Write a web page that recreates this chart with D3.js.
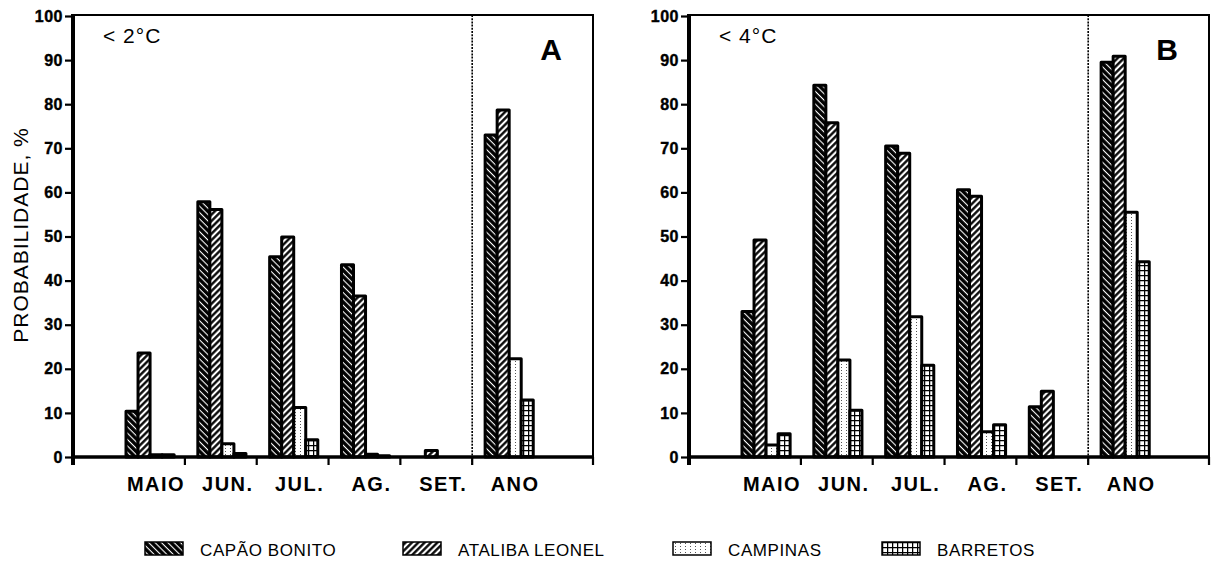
<!DOCTYPE html>
<html>
<head>
<meta charset="utf-8">
<script src="https://cdn.jsdelivr.net/npm/d3@7"></script>
<style>
body { margin: 0; background: #fff; }
svg { display: block; font-family: "Liberation Sans", Arial, sans-serif; }
</style>
</head>
<body>
<script>
var months = ["MAIO", "JUN.", "JUL.", "AG.", "SET.", "ANO"];
var series = ["CAPÃO BONITO", "ATALIBA LEONEL", "CAMPINAS", "BARRETOS"];
var yTicks = [0, 10, 20, 30, 40, 50, 60, 70, 80, 90, 100];

// < 2°C
var capaoA    = [10.4, 57.9, 45.4, 43.6, 0,    73.0];
var atalibaA  = [23.6, 56.1, 49.9, 36.5, 1.5,  78.7];
var campinasA = [0.5,  3.0,  11.2, 0.6,  0,    22.3];
var barretosA = [0.5,  0.8,  3.9,  0.3,  0,    12.9];

// < 4°C
var capaoB    = [33.0, 84.3, 70.5, 60.6, 11.4, 89.5];
var atalibaB  = [49.2, 75.8, 68.9, 59.1, 14.9, 90.9];
var campinasB = [2.7,  22.0, 31.8, 5.7,  0,    55.5];
var barretosB = [5.3,  10.6, 20.8, 7.3,  0,    44.3];

var width = 1212, height = 563;

var svg = d3.select("body").append("svg")
    .attr("width", width)
    .attr("height", height);

// hatch patterns
var defs = svg.append("defs");

var p0 = defs.append("pattern").attr("id", "pat0")
    .attr("patternUnits", "userSpaceOnUse")
    .attr("width", 4.5).attr("height", 4.5)
    .attr("patternTransform", "rotate(-45)");
p0.append("rect").attr("width", 4.5).attr("height", 4.5).attr("fill", "#000");
p0.append("line").attr("x1", 2.2).attr("x2", 2.2).attr("y1", 0).attr("y2", 4.5)
    .attr("stroke", "#fff").attr("stroke-width", 1.1);

var p1 = defs.append("pattern").attr("id", "pat1")
    .attr("patternUnits", "userSpaceOnUse")
    .attr("width", 4.5).attr("height", 4.5)
    .attr("patternTransform", "rotate(45)");
p1.append("rect").attr("width", 4.5).attr("height", 4.5).attr("fill", "#fff");
p1.append("line").attr("x1", 2.2).attr("x2", 2.2).attr("y1", 0).attr("y2", 4.5)
    .attr("stroke", "#000").attr("stroke-width", 2.3);

var p2 = defs.append("pattern").attr("id", "pat2")
    .attr("patternUnits", "userSpaceOnUse")
    .attr("width", 5).attr("height", 3);
p2.append("rect").attr("width", 5).attr("height", 3).attr("fill", "#fff");
p2.append("rect").attr("x", 2).attr("y", 1).attr("width", 1).attr("height", 1).attr("fill", "#555");

var p3 = defs.append("pattern").attr("id", "pat3")
    .attr("patternUnits", "userSpaceOnUse")
    .attr("width", 5).attr("height", 5);
p3.append("rect").attr("width", 5).attr("height", 5).attr("fill", "#fff");
p3.append("path").attr("d", "M0,0.5H5M0.5,0V5")
    .attr("stroke", "#000").attr("stroke-width", 1.5);

var fills = ["url(#pat0)", "url(#pat1)", "url(#pat2)", "url(#pat3)"];

function drawPanel(x0, vals, tempLabel, letter, withTitle) {
    var w = 520, top = 15, bottom = 457;

    var g = svg.append("g").attr("transform", "translate(" + x0 + ",0)");

    var x = d3.scaleBand()
        .domain(months)
        .range([0, w])
        .paddingInner(0)
        .paddingOuter(0.62)
        .align(0.45);

    var x1 = d3.scaleBand()
        .domain(series)
        .range([x.bandwidth() * 0.18, x.bandwidth() * 0.85]);

    var y = d3.scaleLinear().domain([0, 100]).range([bottom, top + 1]);

    // frame (top and right)
    g.append("path")
        .attr("d", "M0," + top + "H" + w + "V" + (bottom + 8))
        .attr("fill", "none").attr("stroke", "#000").attr("stroke-width", 2);

    // dotted separator before ANO
    g.append("line")
        .attr("x1", x("ANO")).attr("x2", x("ANO"))
        .attr("y1", top).attr("y2", bottom + 8)
        .attr("stroke", "#000").attr("stroke-width", 1.6)
        .attr("stroke-dasharray", "2,1.2");

    // bars
    var rows = months.map(function (m, i) {
        return vals.map(function (s, j) { return { m: m, k: j, v: s[i] }; });
    });

    g.append("g").selectAll("g")
        .data(rows)
        .enter().append("g")
        .selectAll("rect")
        .data(function (d) { return d.filter(function (e) { return e.v > 0; }); })
        .enter().append("rect")
        .attr("x", function (d) { return x(d.m) + x1(series[d.k]); })
        .attr("y", function (d) { return y(d.v); })
        .attr("width", x1.bandwidth())
        .attr("height", function (d) { return y(0) - y(d.v); })
        .attr("fill", function (d) { return fills[d.k]; })
        .attr("stroke", "#000")
        .attr("stroke-width", 3)
        .attr("stroke-linejoin", "round");

    // y axis
    var yAxis = g.append("g")
        .call(d3.axisLeft(y).tickValues(yTicks).tickSize(8).tickSizeOuter(0).tickPadding(2));
    yAxis.select(".domain").remove();
    yAxis.selectAll(".tick line").attr("stroke-width", 2.2);
    yAxis.selectAll("text")
        .attr("font-size", 16).attr("font-weight", "bold")
        .attr("letter-spacing", 0.5).attr("fill", "#000")
        .attr("stroke", "#000").attr("stroke-width", 0.4);

    g.append("line")
        .attr("x1", 0).attr("x2", 0)
        .attr("y1", top - 1).attr("y2", bottom + 8)
        .attr("stroke", "#000").attr("stroke-width", 4);

    // x axis: baseline + tick marks at band boundaries
    g.append("line")
        .attr("x1", 0).attr("x2", w)
        .attr("y1", y(0)).attr("y2", y(0))
        .attr("stroke", "#000").attr("stroke-width", 3.5);

    var bounds = months.slice(0, 5).map(function (m) { return x(m) + x.bandwidth(); });
    bounds.push(w);
    g.append("g").selectAll("line")
        .data(bounds)
        .enter().append("line")
        .attr("x1", function (d) { return d; })
        .attr("x2", function (d) { return d; })
        .attr("y1", y(0))
        .attr("y2", y(0) + 8)
        .attr("stroke", "#000")
        .attr("stroke-width", 2.2);

    g.append("g").selectAll("text")
        .data(months)
        .enter().append("text")
        .attr("x", function (d) { return x(d) + x.bandwidth() / 2 + 7; })
        .attr("y", 491)
        .attr("text-anchor", "middle")
        .attr("font-size", 20)
        .attr("font-weight", "bold")
        .attr("letter-spacing", 1.5)
        .text(function (d) { return d; });

    // temperature label
    g.append("text")
        .attr("x", 30).attr("y", 43)
        .attr("font-size", 21)
        .attr("letter-spacing", 1)
        .text(tempLabel);

    // panel letter
    g.append("text")
        .attr("x", w - 42).attr("y", 60)
        .attr("text-anchor", "middle")
        .attr("font-size", 30)
        .attr("font-weight", "bold")
        .text(letter);

    if (withTitle) {
        g.append("text")
            .attr("transform", "translate(" + (21 - x0 + 7) + ",235) rotate(-90)")
            .attr("text-anchor", "middle")
            .attr("font-size", 21)
            .attr("letter-spacing", 1)
            .text("PROBABILIDADE, %");
    }
}

drawPanel(73, [capaoA, atalibaA, campinasA, barretosA], "< 2°C", "A", true);
drawPanel(689, [capaoB, atalibaB, campinasB, barretosB], "< 4°C", "B", false);

// legend
var legendX = [145, 403, 673, 882];
var legend = svg.append("g").selectAll("g")
    .data(series)
    .enter().append("g")
    .attr("transform", function (d, i) { return "translate(" + legendX[i] + ",542)"; });

legend.append("rect")
    .attr("width", 38).attr("height", 13)
    .attr("fill", function (d, i) { return fills[i]; })
    .attr("stroke", "#000").attr("stroke-width", 1.5);

legend.append("text")
    .attr("x", 55).attr("y", 13.5)
    .attr("font-size", 17)
    .attr("letter-spacing", 0.6)
    .text(function (d) { return d; });
</script>
</body>
</html>
